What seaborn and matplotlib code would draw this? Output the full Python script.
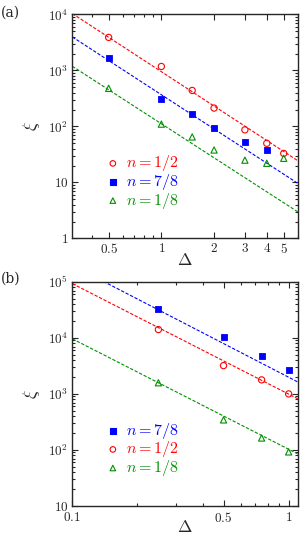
import numpy as np
import pandas as pd
import matplotlib
matplotlib.use("Agg")
import matplotlib.pyplot as plt
import seaborn as sns

# DATA - panel (a)
delta_a = [0.5, 1, 1.5, 2, 3, 4, 5]
xi_half_a = [3900, 1180, 440, 213, 87, 50, 33]
delta_a_78 = [0.5, 1, 1.5, 2, 3, 4]
xi_78_a = [1650, 310, 170, 93, 52, 38]
xi_18_a = [480, 110, 65, 38, 25, 22, 27]

# fit lines (end points read at the axis edges)
fit_x_a = [0.31, 6.0]
fit_half_a = [10400, 24.6]
fit_78_a = [3980, 9.7]
fit_18_a = [1190, 3.0]

# DATA - panel (b)
delta_b = [0.25, 0.5, 0.75, 1.0]
xi_78_b = [32800, 10300, 4750, 2640]
xi_half_b = [14100, 3200, 1780, 1000]
xi_18_b = [1580, 343, 163, 92]

fit_x_b = [0.1, 1.1]
fit_78_b = [198000, 1640]
fit_half_b = [93300, 820]
fit_18_b = [9640, 85]

# ticks
xticks_a = [0.5, 1, 2, 3, 4, 5]
xticklabels_a = ["$0.5$", "$1$", "$2$", "$3$", "$4$", "$5$"]
yticks_a = [1, 10, 100, 1000, 10000]
yticklabels_a = ["$1$", "$10$", r"$10^2$", r"$10^3$", r"$10^4$"]
xticks_b = [0.1, 0.5, 1]
xticklabels_b = ["$0.1$", "$0.5$", "$1$"]
yticks_b = [10, 100, 1000, 10000, 100000]
yticklabels_b = ["$10$", r"$10^2$", r"$10^3$", r"$10^4$", r"$10^5$"]

RED = "#ff0000"
BLUE = "#0000ff"
GREEN = "#009000"

sns.set_style("ticks")
plt.rcParams["font.family"] = ["DejaVu Serif"]
plt.rcParams["mathtext.fontset"] = "cm"
plt.rcParams["xtick.direction"] = "in"
plt.rcParams["ytick.direction"] = "in"

fig = plt.figure(figsize=(3.0, 5.37), dpi=100)
ax_a = fig.add_axes([0.241, 0.556, 0.751, 0.417])
ax_b = fig.add_axes([0.241, 0.058, 0.751, 0.417])

styles = {
    "half": dict(color=RED, marker="o", filled=False),
    "78": dict(color=BLUE, marker="s", filled=True),
    "18": dict(color=GREEN, marker="^", filled=False),
}
labels = {"half": r"$n=1/2$", "78": r"$n=7/8$", "18": r"$n=1/8$"}


def draw_series(ax, x, y, fx, fy, key):
    st = styles[key]
    fit_df = pd.DataFrame({"x": fx, "y": fy})
    sns.lineplot(data=fit_df, x="x", y="y", ax=ax, color=st["color"],
                 linestyle=(0, (3, 1.5)), linewidth=0.8)
    df = pd.DataFrame({"x": x, "y": y})
    if st["filled"]:
        sns.scatterplot(data=df, x="x", y="y", ax=ax, marker=st["marker"],
                        color=st["color"], edgecolor=st["color"], s=22, linewidth=0.6, zorder=3)
    else:
        sns.scatterplot(data=df, x="x", y="y", ax=ax, marker=st["marker"],
                        facecolor="none", edgecolor=st["color"], s=20, linewidth=0.8, zorder=3)


def draw_legend(ax, order, x0, y0, dy):
    for i, key in enumerate(order):
        st = styles[key]
        yy = y0 - i * dy
        ax.scatter([x0], [yy], transform=ax.transAxes, marker=st["marker"],
                   facecolor=st["color"] if st["filled"] else "none",
                   edgecolor=st["color"], s=18 if st["filled"] else 16, linewidth=0.8, clip_on=False)
        ax.text(x0 + 0.06, yy, labels[key], transform=ax.transAxes, color=st["color"],
                fontsize=11.5, va="center", ha="left")


def style_axes(ax, xlim, ylim, xt, xtl, yt, ytl, xpad=2.5, lpad=-3):
    ax.set_xscale("log")
    ax.set_yscale("log")
    ax.set_xlim(*xlim)
    ax.set_ylim(*ylim)
    ax.set_xticks(xt)
    ax.set_xticklabels(xtl)
    ax.set_yticks(yt)
    ax.set_yticklabels(ytl)
    ax.tick_params(which="both", top=True, right=True, direction="in", labelsize=9.5, width=0.8)
    ax.tick_params(which="major", length=4.5)
    ax.tick_params(which="minor", length=2.5)
    ax.tick_params(axis="x", which="major", pad=xpad)
    ax.tick_params(axis="y", which="major", pad=3)
    for sp in ax.spines.values():
        sp.set_linewidth(1.0)
    ax.set_xlabel(r"$\Delta$", fontsize=12.5, labelpad=lpad)
    ax.set_ylabel(r"$\xi$", fontsize=13, labelpad=4)


# panel (a)
draw_series(ax_a, delta_a, xi_half_a, fit_x_a, fit_half_a, "half")
draw_series(ax_a, delta_a_78, xi_78_a, fit_x_a, fit_78_a, "78")
draw_series(ax_a, delta_a, xi_18_a, fit_x_a, fit_18_a, "18")
style_axes(ax_a, (0.31, 6.0), (1, 1e4), xticks_a, xticklabels_a, yticks_a, yticklabels_a)
draw_legend(ax_a, ["half", "78", "18"], 0.18, 0.335, 0.083)

# panel (b)
draw_series(ax_b, delta_b, xi_78_b, fit_x_b, fit_78_b, "78")
draw_series(ax_b, delta_b, xi_half_b, fit_x_b, fit_half_b, "half")
draw_series(ax_b, delta_b, xi_18_b, fit_x_b, fit_18_b, "18")
style_axes(ax_b, (0.1, 1.1), (10, 1e5), xticks_b, xticklabels_b, yticks_b, yticklabels_b,
           xpad=4, lpad=-4.5)
draw_legend(ax_b, ["78", "half", "18"], 0.18, 0.335, 0.083)

fig.text(0.003, 0.99, "(a)", fontsize=10, va="top", ha="left")
fig.text(0.003, 0.495, "(b)", fontsize=10, va="top", ha="left")

fig.savefig("out.png", dpi=100)
